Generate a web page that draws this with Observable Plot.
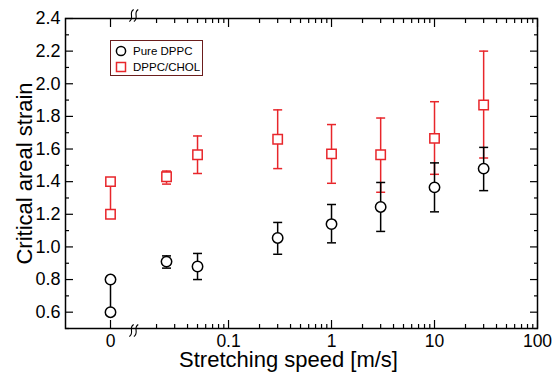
<!DOCTYPE html>
<html><head><meta charset="utf-8">
<script src="https://cdn.jsdelivr.net/npm/d3@7"></script>
<script src="https://cdn.jsdelivr.net/npm/@observablehq/plot@0.6"></script>
<style>
body{margin:0;background:#fff;}
#wrap{position:relative;width:554px;height:372px;font-family:"Liberation Sans",Arial,sans-serif;}
#legend{position:absolute;left:110px;top:40px;width:93px;height:36px;box-sizing:border-box;border:1px solid #6b1d1d;background:#fff;font-size:11.5px;color:#000;}
.row{position:absolute;left:0;height:14px;}
.row svg{position:absolute;left:4px;top:1px;}
.row span{position:absolute;left:22px;white-space:nowrap;line-height:14px;}
</style></head>
<body><div id="wrap"></div>
<script>
// ---- data ----
const speeds = [0.025, 0.05, 0.3, 1, 3, 10, 30];
const dppcMean = [0.91, 0.88, 1.055, 1.14, 1.245, 1.365, 1.48];
const dppcLow  = [0.87, 0.80, 0.955, 1.025, 1.095, 1.215, 1.345];
const dppcHigh = [0.945, 0.96, 1.15, 1.26, 1.395, 1.515, 1.61];
const cholMean = [1.43, 1.565, 1.66, 1.57, 1.565, 1.665, 1.87];
const cholLow  = [1.385, 1.45, 1.48, 1.39, 1.335, 1.445, 1.545];
const cholHigh = [1.465, 1.68, 1.84, 1.75, 1.79, 1.89, 2.20];
const staticSpeed = 0;
const dppcStatic = [0.6, 0.8];
const cholStatic = [1.2, 1.4];
const seriesNames = ["Pure DPPC", "DPPC/CHOL"];
const xTickValues = [0, 0.1, 1, 10, 100];
const xTickLabels = ["0", "0.1", "1", "10", "100"];
const yMajor = [0.6, 0.8, 1.0, 1.2, 1.4, 1.6, 1.8, 2.0, 2.2, 2.4];
const yMinor = [0.5, 0.7, 0.9, 1.1, 1.3, 1.5, 1.7, 1.9, 2.1, 2.3];

// ---- broken-axis mapping: zero placed left of the log segment ----
const ZERO_U = -2.146, BREAK_U = -1.92;
const pos = v => v === 0 ? ZERO_U : Math.log10(v);
const RED = "#e8262b";

const dppc = speeds.map((s, i) => ({u: pos(s), m: dppcMean[i], lo: dppcLow[i], hi: dppcHigh[i]}));
const chol = speeds.map((s, i) => ({u: pos(s), m: cholMean[i], lo: cholLow[i], hi: cholHigh[i]}));
const dppc0 = dppcStatic.map(v => ({u: pos(staticSpeed), m: v}));
const chol0 = cholStatic.map(v => ({u: pos(staticSpeed), m: v}));

const majorU = xTickValues.map(pos);
const minorU = [];
for (const e of [-2, -1, 0, 1]) for (let k = 2; k <= 9; k++) minorU.push(Math.log10(k * Math.pow(10, e)));

// error-bar cap symbol (horizontal segment)
const cap = {draw(ctx, size) { const r = Math.sqrt(size / Math.PI); ctx.moveTo(-r, 0); ctx.lineTo(r, 0); }};
// axis-break symbol: two slanted S-curves
const breakSym = {draw(ctx, size) {
  const s = Math.sqrt(size / Math.PI) / 6;
  for (const o of [-2.3, 2.3]) {
    ctx.moveTo((o + 2.2) * s, -6 * s);
    ctx.bezierCurveTo((o - 3.5) * s, -2.5 * s, (o + 3.5) * s, 2 * s, (o - 2.2) * s, 6 * s);
  }
}};

const font = "'Liberation Sans', Arial, sans-serif";
const chart = Plot.plot({
  width: 554, height: 372,
  marginLeft: 65, marginRight: 17, marginTop: 18, marginBottom: 44,
  x: {type: "linear", domain: [-2.583, 2]},
  y: {type: "linear", domain: [0.5, 2.4]},
  style: {fontFamily: font, background: "white", color: "black"},
  marks: [
    // ticks
    Plot.axisY(yMajor, {anchor: "left", tickSize: -8, text: null, label: null, strokeWidth: 1.2}),
    Plot.axisY(yMinor, {anchor: "left", tickSize: -4, text: null, label: null, strokeWidth: 1.2}),
    Plot.axisY(yMajor, {anchor: "right", tickSize: -8, text: null, label: null, strokeWidth: 1.2}),
    Plot.axisY(yMinor, {anchor: "right", tickSize: -4, text: null, label: null, strokeWidth: 1.2}),
    Plot.axisX(majorU, {anchor: "bottom", tickSize: -8, text: null, label: null, strokeWidth: 1.2}),
    Plot.axisX(minorU, {anchor: "bottom", tickSize: -4, text: null, label: null, strokeWidth: 1.2}),
    Plot.axisX(majorU, {anchor: "top", tickSize: -8, text: null, label: null, strokeWidth: 1.2}),
    Plot.axisX(minorU, {anchor: "top", tickSize: -4, text: null, label: null, strokeWidth: 1.2}),
    // tick labels
    Plot.axisY(yMajor, {anchor: "left", tickSize: 0, tickPadding: 5, tickFormat: d3.format(".1f"), fontSize: 18, label: null}),
    Plot.axisX(majorU, {anchor: "bottom", tickSize: 0, tickPadding: 6, tickFormat: d => xTickLabels[majorU.indexOf(d)], fontSize: 17.5, label: null}),
    Plot.frame({stroke: "black", strokeWidth: 1.5}),
    // axis break marks
    Plot.dot([BREAK_U], {x: d => d, frameAnchor: "top", dy: -3, symbol: breakSym, r: 6, stroke: "black", fill: "none", strokeWidth: 1.1}),
    Plot.dot([BREAK_U], {x: d => d, frameAnchor: "bottom", dy: 2, symbol: breakSym, r: 6, stroke: "black", fill: "none", strokeWidth: 1.1}),
    // axis titles
    Plot.text(["Critical areal strain"], {frameAnchor: "left", rotate: -90, dx: -41, fontSize: 22, textAnchor: "middle", lineAnchor: "middle"}),
    Plot.text(["Stretching speed [m/s]"], {frameAnchor: "bottom", dy: 31, dx: -13, fontSize: 22, textAnchor: "middle", lineAnchor: "middle"}),
    // DPPC/CHOL
    Plot.ruleX(chol0.slice(0, 1), {x: "u", y1: () => cholStatic[0], y2: () => cholStatic[1], stroke: RED, strokeWidth: 1.5}),
    Plot.ruleX(chol, {x: "u", y1: "lo", y2: "hi", stroke: RED, strokeWidth: 1.5}),
    Plot.dot(chol, {x: "u", y: "lo", symbol: cap, r: 4.5, stroke: RED, fill: "none", strokeWidth: 1.5}),
    Plot.dot(chol, {x: "u", y: "hi", symbol: cap, r: 4.5, stroke: RED, fill: "none", strokeWidth: 1.5}),
    Plot.dot(chol.concat(chol0), {x: "u", y: "m", symbol: "square", r: 5.3, stroke: RED, fill: "white", strokeWidth: 1.5}),
    // Pure DPPC
    Plot.ruleX(dppc0.slice(0, 1), {x: "u", y1: () => dppcStatic[0], y2: () => dppcStatic[1], stroke: "black", strokeWidth: 1.5}),
    Plot.ruleX(dppc, {x: "u", y1: "lo", y2: "hi", stroke: "black", strokeWidth: 1.5}),
    Plot.dot(dppc, {x: "u", y: "lo", symbol: cap, r: 4.5, stroke: "black", fill: "none", strokeWidth: 1.5}),
    Plot.dot(dppc, {x: "u", y: "hi", symbol: cap, r: 4.5, stroke: "black", fill: "none", strokeWidth: 1.5}),
    Plot.dot(dppc.concat(dppc0), {x: "u", y: "m", symbol: "circle", r: 5.2, stroke: "black", fill: "white", strokeWidth: 1.5})
  ]
});
const wrap = document.getElementById("wrap");
wrap.appendChild(chart);

// legend (inside plot area)
const lg = document.createElement("div");
lg.id = "legend";
lg.innerHTML = `
<div class="row" style="top:3px"><svg width="12" height="12"><circle cx="6" cy="6" r="4.6" fill="white" stroke="black" stroke-width="1.5"/></svg><span>${seriesNames[0]}</span></div>
<div class="row" style="top:19px"><svg width="12" height="12"><rect x="1.5" y="1.5" width="9" height="9" fill="white" stroke="${RED}" stroke-width="1.5"/></svg><span>${seriesNames[1]}</span></div>`;
wrap.appendChild(lg);
</script></body></html>
